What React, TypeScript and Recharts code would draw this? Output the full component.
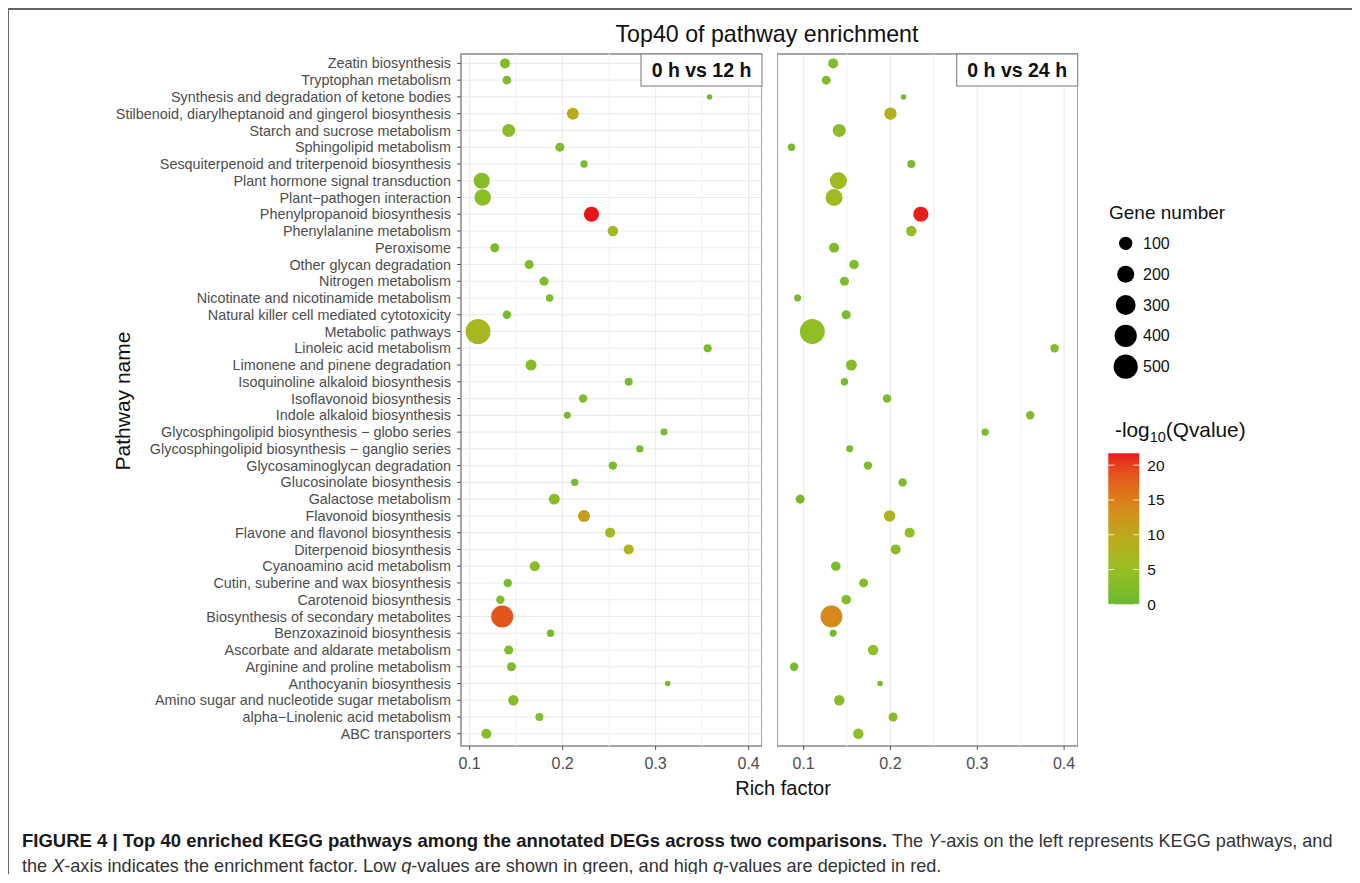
import React from "react";
import { ScatterChart, Scatter, XAxis, YAxis, CartesianGrid, ReferenceLine, ReferenceArea } from "recharts";

// KEGG pathways, top to bottom
const PATHWAYS = [
  "Zeatin biosynthesis",
  "Tryptophan metabolism",
  "Synthesis and degradation of ketone bodies",
  "Stilbenoid, diarylheptanoid and gingerol biosynthesis",
  "Starch and sucrose metabolism",
  "Sphingolipid metabolism",
  "Sesquiterpenoid and triterpenoid biosynthesis",
  "Plant hormone signal transduction",
  "Plant\u2212pathogen interaction",
  "Phenylpropanoid biosynthesis",
  "Phenylalanine metabolism",
  "Peroxisome",
  "Other glycan degradation",
  "Nitrogen metabolism",
  "Nicotinate and nicotinamide metabolism",
  "Natural killer cell mediated cytotoxicity",
  "Metabolic pathways",
  "Linoleic acid metabolism",
  "Limonene and pinene degradation",
  "Isoquinoline alkaloid biosynthesis",
  "Isoflavonoid biosynthesis",
  "Indole alkaloid biosynthesis",
  "Glycosphingolipid biosynthesis \u2212 globo series",
  "Glycosphingolipid biosynthesis \u2212 ganglio series",
  "Glycosaminoglycan degradation",
  "Glucosinolate biosynthesis",
  "Galactose metabolism",
  "Flavonoid biosynthesis",
  "Flavone and flavonol biosynthesis",
  "Diterpenoid biosynthesis",
  "Cyanoamino acid metabolism",
  "Cutin, suberine and wax biosynthesis",
  "Carotenoid biosynthesis",
  "Biosynthesis of secondary metabolites",
  "Benzoxazinoid biosynthesis",
  "Ascorbate and aldarate metabolism",
  "Arginine and proline metabolism",
  "Anthocyanin biosynthesis",
  "Amino sugar and nucleotide sugar metabolism",
  "alpha\u2212Linolenic acid metabolism",
  "ABC transporters",
];

// 0 h vs 12 h
const RICH_12H = [
  0.138, 0.14, 0.358, 0.211, 0.142, 0.197, 0.223, 0.113, 0.114, 0.231, 0.254, 0.127, 0.164, 0.18,
  0.186, 0.14, 0.109, 0.356, 0.166, 0.271, 0.222, 0.205, 0.309, 0.283, 0.254, 0.213, 0.191, 0.223,
  0.251, 0.271, 0.17, 0.141, 0.133, 0.135, 0.187, 0.142, 0.145, 0.313, 0.147, 0.175, 0.118,
];
const GENES_12H = [
  45, 31, 17, 75, 95, 34, 22, 172, 186, 146, 51, 34, 34, 34, 22, 29, 540, 26, 58, 26, 29, 20, 20, 22,
  29, 22, 58, 75, 45, 45, 45, 29, 29, 396, 22, 34, 34, 17, 51, 26, 45,
];
const Q_12H = [
  2.5, 2, 1.2, 9.8, 3.5, 2, 1.5, 3, 3.5, 21.7, 6.8, 1.5, 2, 2, 1.5, 1.5, 6.8, 1.5, 3, 1.5, 2, 1.2, 1.2, 1.5,
  2, 1.5, 3.5, 11.5, 6.3, 8.5, 3, 1.5, 2, 18.5, 1.5, 2, 2, 1, 3, 2, 2.5,
];

// 0 h vs 24 h
const RICH_24H = [
  0.134, 0.126, 0.215, 0.2, 0.141, 0.086, 0.224, 0.14, 0.135, 0.235, 0.224, 0.135, 0.158, 0.147,
  0.093, 0.149, 0.11, 0.389, 0.155, 0.147, 0.196, 0.361, 0.309, 0.153, 0.174, 0.214, 0.096, 0.199,
  0.222, 0.206, 0.137, 0.169, 0.149, 0.132, 0.134, 0.18, 0.089, 0.188, 0.141, 0.203, 0.163,
];
const GENES_24H = [
  45, 34, 17, 84, 95, 22, 26, 200, 200, 146, 51, 45, 39, 34, 20, 34, 535, 29, 58, 22, 29, 29, 22, 20,
  29, 29, 34, 66, 45, 45, 39, 34, 39, 383, 20, 51, 29, 17, 51, 34, 51,
];
const Q_24H = [
  2.5, 2, 1, 7.8, 3.5, 1.2, 1.5, 6.3, 6.3, 21.5, 4.5, 2, 2, 2, 1, 1.5, 4, 2.5, 2.5, 1.5, 2, 2.5, 1.5, 1.2,
  2, 2, 1.5, 7.8, 4, 3.5, 2, 2.5, 2.5, 13.5, 1.2, 4, 1.5, 1, 3, 3, 4,
];

const X_TICKS = [0.1, 0.2, 0.3, 0.4];
const X_MINOR = [0.15, 0.25, 0.35];
const SIZE_BREAKS = [100, 200, 300, 400, 500];
const Q_BREAKS = [0, 5, 10, 15, 20];
const Q_LIMITS = [0, 21.7];
// colour stops of the -log10(Qvalue) scale
const Q_STOP_VALUES = [0, 5, 10, 15, 21.7];
const Q_STOP_COLOURS = ["#6AB92E", "#97BF22", "#BDA91C", "#DC7D1C", "#E8161B"];

const FONT = "'Liberation Sans', Arial, Helvetica, sans-serif";
const AXIS_TEXT = "#4D4D4D";

// layout (relative to the framed figure)
const PLOT_TOP = 46;
const CHART_H = 782;
const LEFT_AXIS_W = 453;
const PANEL_W = 301;
const RIGHT_PANEL_X = 768.7;
const Y_DOMAIN: [number, number] = [-0.56, 40.73];
const ROW_TICKS = PATHWAYS.map((_, i) => i);

// ---- colour helpers (Lab interpolation between stops) ----
type Lab = [number, number, number];
const toLin = (c: number) => {
  const v = c / 255;
  return v <= 0.04045 ? v / 12.92 : Math.pow((v + 0.055) / 1.055, 2.4);
};
const fromLin = (c: number) => {
  const v = c <= 0.0031308 ? 12.92 * c : 1.055 * Math.pow(c, 1 / 2.4) - 0.055;
  return Math.round(Math.min(1, Math.max(0, v)) * 255);
};
function hexToLab(hex: string): Lab {
  const r = toLin(parseInt(hex.slice(1, 3), 16));
  const g = toLin(parseInt(hex.slice(3, 5), 16));
  const b = toLin(parseInt(hex.slice(5, 7), 16));
  const X = (0.4124 * r + 0.3576 * g + 0.1805 * b) / 0.95047;
  const Y = 0.2126 * r + 0.7152 * g + 0.0722 * b;
  const Z = (0.0193 * r + 0.1192 * g + 0.9505 * b) / 1.08883;
  const f = (t: number) => (t > 0.008856 ? Math.cbrt(t) : 7.787 * t + 16 / 116);
  const fx = f(X), fy = f(Y), fz = f(Z);
  return [116 * fy - 16, 500 * (fx - fy), 200 * (fy - fz)];
}
function labToHex([L, a, b]: Lab): string {
  const fy = (L + 16) / 116;
  const fx = fy + a / 500;
  const fz = fy - b / 200;
  const inv = (t: number) => (t * t * t > 0.008856 ? t * t * t : (t - 16 / 116) / 7.787);
  const X = inv(fx) * 0.95047, Y = inv(fy), Z = inv(fz) * 1.08883;
  const r = 3.2406 * X - 1.5372 * Y - 0.4986 * Z;
  const g = -0.9689 * X + 1.8758 * Y + 0.0415 * Z;
  const bl = 0.0557 * X - 0.204 * Y + 1.057 * Z;
  return "#" + [r, g, bl].map((c) => fromLin(c).toString(16).padStart(2, "0")).join("");
}
const STOP_LABS = Q_STOP_COLOURS.map(hexToLab);
function qColour(q: number): string {
  const v = Math.min(Q_LIMITS[1], Math.max(Q_LIMITS[0], q));
  let i = 0;
  while (i < Q_STOP_VALUES.length - 2 && v > Q_STOP_VALUES[i + 1]) i++;
  const t = (v - Q_STOP_VALUES[i]) / (Q_STOP_VALUES[i + 1] - Q_STOP_VALUES[i]);
  const a = STOP_LABS[i], b = STOP_LABS[i + 1];
  return labToHex([a[0] + (b[0] - a[0]) * t, a[1] + (b[1] - a[1]) * t, a[2] + (b[2] - a[2]) * t]);
}

// ---- bubble size: area-style (sqrt) rescale of gene number ----
const ALL_GENES = [...GENES_12H, ...GENES_24H];
const GENE_MIN = Math.min(...ALL_GENES);
const GENE_MAX = Math.max(...ALL_GENES);
const SIZE_RANGE = [5.5, 25];
function bubbleDiameter(n: number) {
  const t = Math.max(0, (n - GENE_MIN) / (GENE_MAX - GENE_MIN));
  return SIZE_RANGE[0] + (SIZE_RANGE[1] - SIZE_RANGE[0]) * Math.sqrt(t);
}

function Bubble(props: any) {
  const { cx, cy, payload } = props;
  if (cx == null || cy == null) return null;
  return <circle cx={cx} cy={cy} r={bubbleDiameter(payload.genes) / 2} fill={qColour(payload.q)} />;
}

type PanelProps = {
  rich: number[];
  genes: number[];
  q: number[];
  domain: [number, number];
  width: number;
  showPathways: boolean;
};

function Panel({ rich, genes, q, domain, width, showPathways }: PanelProps) {
  const data = PATHWAYS.map((name, i) => ({ row: i, name, rich: rich[i], genes: genes[i], q: q[i] }));
  return (
    <ScatterChart width={width} height={CHART_H} margin={{ top: PLOT_TOP, right: 0, bottom: 14, left: 0 }}>
      <CartesianGrid stroke="#EBEBEB" strokeWidth={1.1} />
      {X_MINOR.map((v) => (
        <ReferenceLine key={v} x={v} stroke="#F1F1F1" strokeWidth={1} ifOverflow="hidden" />
      ))}
      <XAxis
        type="number"
        dataKey="rich"
        domain={domain}
        allowDataOverflow
        ticks={X_TICKS}
        interval={0}
        tickFormatter={(v: number) => v.toFixed(1)}
        tick={{ fontSize: 16, fill: AXIS_TEXT }}
        tickLine={{ stroke: "#555" }}
        tickSize={4}
        tickMargin={8}
        axisLine={false}
        height={30}
      />
      {showPathways ? (
        <YAxis
          type="number"
          dataKey="row"
          reversed
          domain={Y_DOMAIN}
          allowDataOverflow
          ticks={ROW_TICKS}
          interval={0}
          tickFormatter={(i: number) => PATHWAYS[i] ?? ""}
          tick={{ fontSize: 14.4, fill: AXIS_TEXT }}
          tickLine={{ stroke: "#555" }}
          tickSize={4}
          tickMargin={6}
          axisLine={false}
          width={LEFT_AXIS_W}
        />
      ) : (
        <YAxis
          type="number"
          dataKey="row"
          reversed
          domain={Y_DOMAIN}
          allowDataOverflow
          ticks={ROW_TICKS}
          interval={0}
          tick={false}
          tickLine={false}
          axisLine={false}
          width={0}
        />
      )}
      <Scatter data={data} shape={Bubble} isAnimationActive={false} />
      <ReferenceArea
        x1={domain[0]}
        x2={domain[1]}
        y1={Y_DOMAIN[0]}
        y2={Y_DOMAIN[1]}
        fill="none"
        stroke="#8A8A8A"
        strokeWidth={1.5}
        ifOverflow="visible"
      />
    </ScatterChart>
  );
}

function StripLabel({ right, text }: { right: number; text: string }) {
  return (
    <g>
      <rect x={right - 121} y={PLOT_TOP} width={121} height={32} fill="#fff" stroke="#8A8A8A" strokeWidth={1.2} />
      <text x={right - 60.5} y={PLOT_TOP + 23} textAnchor="middle" fontSize={19.5} fontWeight="bold" fill="#111">
        {text}
      </text>
    </g>
  );
}

export default function App() {
  const leftRight = LEFT_AXIS_W + PANEL_W;
  const rightRight = RIGHT_PANEL_X + PANEL_W;
  const barX = 1100.3, barY = 445.3, barW = 31, barH = 151;
  const qToY = (v: number) => barY + barH - ((v - Q_LIMITS[0]) / (Q_LIMITS[1] - Q_LIMITS[0])) * barH;
  const gradStops = Array.from({ length: 21 }, (_, k) => Q_LIMITS[0] + ((Q_LIMITS[1] - Q_LIMITS[0]) * k) / 20);

  return (
    <div style={{ position: "relative", width: 1347, height: 866, fontFamily: FONT, background: "#fff" }}>
      <style>{"html,body{overflow:hidden}"}</style>
      <div
        style={{
          position: "absolute",
          left: -1,
          top: 0,
          width: 1350,
          height: 900,
          border: "2px solid #666",
          borderBottom: "none",
          boxSizing: "border-box",
        }}
      />
      <div style={{ position: "absolute", left: 0, top: 0 }}>
        <Panel rich={RICH_12H} genes={GENES_12H} q={Q_12H} domain={[0.0907, 0.4144]} width={leftRight} showPathways />
      </div>
      <div style={{ position: "absolute", left: RIGHT_PANEL_X, top: 0 }}>
        <Panel rich={RICH_24H} genes={GENES_24H} q={Q_24H} domain={[0.0693, 0.416]} width={PANEL_W} showPathways={false} />
      </div>

      <svg
        width={1347}
        height={866}
        style={{ position: "absolute", left: 0, top: 0, pointerEvents: "none", fontFamily: FONT }}
      >
        <text x={759} y={34} textAnchor="middle" fontSize={23.2} fill="#111">
          Top40 of pathway enrichment
        </text>
        <StripLabel right={leftRight} text="0 h vs 12 h" />
        <StripLabel right={rightRight} text="0 h vs 24 h" />
        <text x={775} y={787} textAnchor="middle" fontSize={20} fill="#111">
          Rich factor
        </text>
        <text
          x={114}
          y={393}
          textAnchor="middle"
          dominantBaseline="central"
          fontSize={21}
          fill="#111"
          transform="rotate(-90 114 393)"
        >
          Pathway name
        </text>

        {/* size legend */}
        <text x={1101} y={211} fontSize={19} fill="#111">
          Gene number
        </text>
        {SIZE_BREAKS.map((n, k) => (
          <g key={n}>
            <circle cx={1117.7} cy={235.3 + k * 30.85} r={bubbleDiameter(n) / 2} fill="#000" />
            <text x={1135} y={235.3 + k * 30.85} dominantBaseline="central" fontSize={16} fill="#111">
              {n}
            </text>
          </g>
        ))}

        {/* colour bar */}
        <text x={1107} y={429} fontSize={20.8} fill="#111">
          -log
          <tspan fontSize={14.5} dy={5}>
            10
          </tspan>
          <tspan dy={-5}>(Qvalue)</tspan>
        </text>
        <defs>
          <linearGradient id="qbar" x1="0" y1="1" x2="0" y2="0">
            {gradStops.map((v, k) => (
              <stop key={k} offset={`${(k / 20) * 100}%`} stopColor={qColour(v)} />
            ))}
          </linearGradient>
        </defs>
        <rect x={barX} y={barY} width={barW} height={barH} fill="url(#qbar)" />
        {Q_BREAKS.map((v) => (
          <g key={v}>
            <line x1={barX} x2={barX + 6} y1={qToY(v)} y2={qToY(v)} stroke="#fff" strokeWidth={1} opacity={0.8} />
            <line x1={barX + barW - 6} x2={barX + barW} y1={qToY(v)} y2={qToY(v)} stroke="#fff" strokeWidth={1} opacity={0.8} />
            <text x={barX + 39} y={qToY(v)} dominantBaseline="central" fontSize={15.5} fill="#111">
              {v}
            </text>
          </g>
        ))}
      </svg>

      <div
        style={{
          position: "absolute",
          left: 14,
          top: 820,
          width: 1330,
          fontSize: 18.1,
          lineHeight: "25px",
          color: "#333",
          whiteSpace: "nowrap",
        }}
      >
        <div>
          <b style={{ color: "#1a1a1a", fontSize: 18.5 }}>
            FIGURE 4 | Top 40 enriched KEGG pathways among the annotated DEGs across two comparisons.
          </b>{" "}
          The <i>Y</i>-axis on the left represents KEGG pathways, and
        </div>
        <div>
          the <i>X</i>-axis indicates the enrichment factor. Low <i>q</i>-values are shown in green, and high{" "}
          <i>q</i>-values are depicted in red.
        </div>
      </div>
    </div>
  );
}
